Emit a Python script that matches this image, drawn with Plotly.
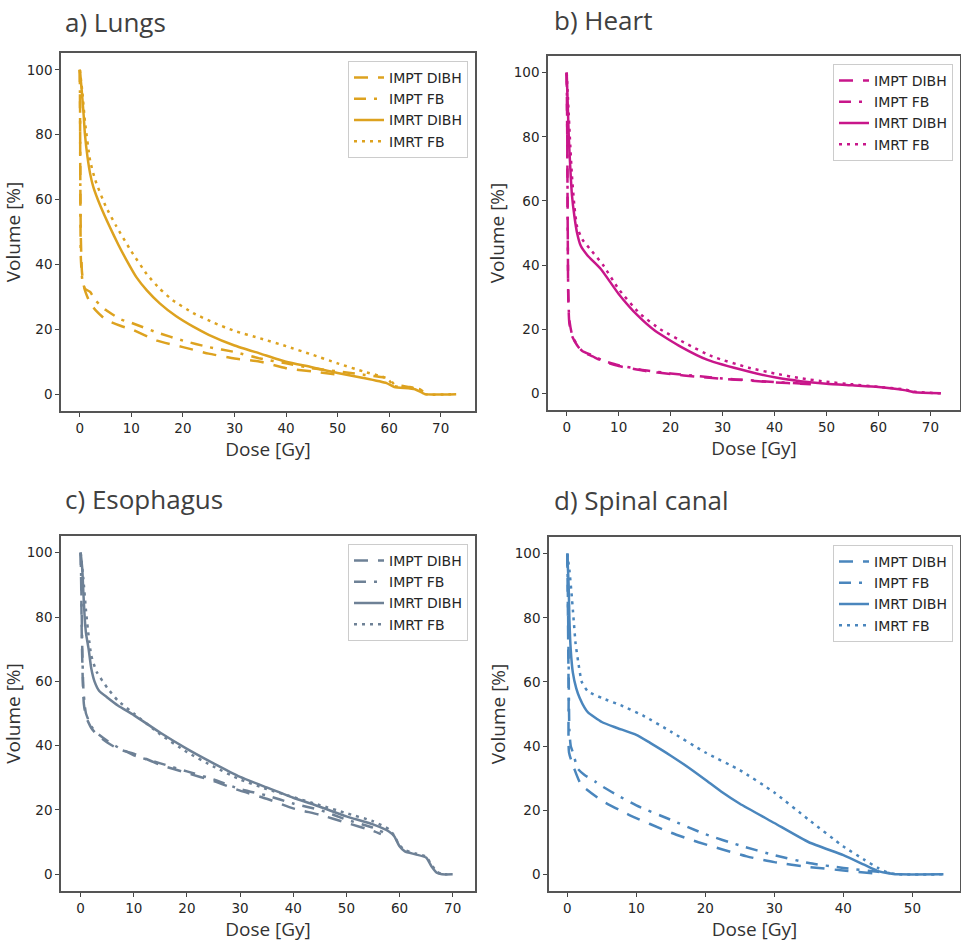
import plotly.graph_objects as go

# ---------------- data ----------------
panel_titles = ["a) Lungs", "b) Heart", "c) Esophagus", "d) Spinal canal"]
series_names = ["IMPT DIBH", "IMPT FB", "IMRT DIBH", "IMRT FB"]
panel_colors = ["#DDA21F", "#C8168A", "#6E8196", "#4A86BD"]

# a) Lungs
lungs_impt_dibh_dose = [0, 0.05, 0.1, 0.2, 0.4, 0.7, 1, 2, 3, 5, 8, 10, 15, 20, 25, 30, 35, 40, 45, 50]
lungs_impt_dibh_vol = [100, 85, 65, 48, 38, 34, 32, 28, 26, 23, 21, 20, 16.5, 14.5, 12.5, 11, 10, 8, 7, 6]
lungs_impt_fb_dose = [0, 0.05, 0.1, 0.2, 0.5, 1, 2, 3, 5, 8, 10, 15, 20, 25, 30, 35, 40, 45, 50, 55, 60, 61, 64, 66, 67]
lungs_impt_fb_vol = [100, 88, 62, 42, 35, 32.5, 31.5, 29, 26, 23, 22, 19, 16.5, 14.5, 13, 11, 9.5, 8, 7, 6, 4.8, 3, 2.2, 1.5, 0]
lungs_imrt_dibh_dose = [0, 0.3, 0.7, 1, 1.5, 2, 2.6, 4, 5.8, 7.5, 9, 11, 13, 15.5, 18.7, 22, 25, 30, 35, 40, 45, 50, 55, 59.5, 61, 65, 67, 73]
lungs_imrt_dibh_vol = [100, 95, 87, 80, 73, 68, 64, 58, 51.6, 46, 41.5, 36, 32, 28, 24, 20.8, 18.3, 15, 12.5, 10, 8.3, 6.5, 5, 3.4, 2.2, 1.5, 0, 0]
lungs_imrt_fb_dose = [0, 0.5, 1, 2, 3, 5, 7, 10, 13, 15.5, 18, 22, 26, 30, 35, 40, 45, 50, 55, 59, 60, 61, 64, 66, 67, 72]
lungs_imrt_fb_vol = [100, 93, 84, 72, 66, 58, 52, 44, 37, 32.5, 29, 25, 22, 19.5, 17.2, 14.8, 12.2, 9.5, 7, 5.2, 4.2, 2.5, 2, 1.5, 0, 0]

# b) Heart
heart_impt_dibh_dose = [0, 0.1, 0.2, 0.3, 0.5, 1, 2, 3, 5, 7, 10, 15, 20, 25, 30, 35, 40, 45, 47]
heart_impt_dibh_vol = [100, 80, 50, 30, 22, 18, 15, 13, 11.5, 10, 8.5, 7, 6, 5.2, 4.5, 4, 3.4, 3, 2.8]
heart_impt_fb_dose = [0, 0.1, 0.2, 0.3, 0.5, 1, 2, 3, 5, 7, 10, 15, 20, 25, 30, 35, 40, 45, 47]
heart_impt_fb_vol = [100, 82, 52, 31, 23, 18.5, 15, 13.2, 11.8, 10.2, 8.8, 7.2, 6.2, 5.4, 4.6, 4.1, 3.5, 3.1, 2.9]
heart_imrt_dibh_dose = [0, 0.2, 0.4, 0.7, 1, 1.5, 2, 2.7, 4, 6.6, 10, 13.7, 17, 22, 27, 35, 40, 45, 50, 55, 60, 65, 67, 72]
heart_imrt_dibh_vol = [100, 90, 80, 70, 62, 55, 50, 46, 43, 38.7, 31, 24.2, 19.5, 14.5, 10.5, 6.8, 5, 3.8, 3, 2.5, 2, 1, 0.3, 0]
heart_imrt_fb_dose = [0, 0.3, 0.6, 1, 1.5, 2, 3, 4.5, 7, 10, 14, 18, 23, 28, 35, 40, 45, 50, 55, 60, 65, 67, 72]
heart_imrt_fb_vol = [100, 90, 80, 68, 58, 52, 48, 45, 40, 32.5, 25, 20, 15.5, 11.5, 8, 6.2, 4.7, 3.6, 2.8, 2, 1.2, 0.5, 0]

# c) Esophagus
eso_impt_dibh_dose = [0, 0.1, 0.2, 0.4, 0.6, 1, 2, 3, 5, 7, 10, 15, 20, 25, 30, 35, 40, 45, 50, 55, 56.5]
eso_impt_dibh_vol = [100, 90, 75, 60, 53, 49, 45.5, 43.5, 41, 39, 37.5, 34, 31.5, 29, 26, 23.5, 20.5, 18.5, 16, 13.5, 12.5]
eso_impt_fb_dose = [0, 0.1, 0.3, 0.5, 0.8, 1, 2, 3, 5, 7, 10, 15, 20, 25, 30, 35, 40, 45, 50, 55, 57]
eso_impt_fb_vol = [100, 92, 70, 58, 52, 50, 46, 44, 41.5, 39.5, 37, 34.5, 32, 29.5, 26.5, 24.5, 22, 20, 17, 14.5, 13]
eso_imrt_dibh_dose = [0, 0.3, 0.5, 0.75, 1, 1.5, 2, 2.6, 3.5, 5, 7, 10, 15, 20, 25, 30, 35, 40, 45, 50, 55, 58, 59, 60, 61, 63, 65, 66, 67, 68, 70]
eso_imrt_dibh_vol = [100, 95, 88, 80, 75, 70, 64, 60, 57, 55, 52.5, 49.5, 44, 39, 34.5, 30.3, 27, 23.8, 21, 18, 15.5, 13.3, 11.8, 8.7, 7.1, 6.2, 5.2, 2.5, 0.5, 0, 0]
eso_imrt_fb_dose = [0, 0.5, 1, 1.5, 2, 3, 5, 7, 10, 15, 20, 25, 30, 35, 40, 45, 50, 55, 58, 59, 60, 61, 63, 65, 66, 67, 68, 69]
eso_imrt_fb_vol = [100, 92, 82, 74, 68, 63, 58, 54, 50, 43.5, 38, 33.5, 29.5, 26.5, 24, 21.5, 19, 16.5, 14, 12, 9, 7.5, 6.5, 5.5, 3, 0.8, 0, 0]

# d) Spinal canal
spine_impt_dibh_dose = [0, 0.1, 0.2, 0.25, 1, 2, 5, 9, 15, 19, 26, 30, 35, 40, 43, 45]
spine_impt_dibh_vol = [100, 80, 55, 38, 33, 28, 23, 18.5, 13, 10, 5.6, 3.8, 2.3, 1.2, 0.6, 0.2]
spine_impt_fb_dose = [0, 0.1, 0.2, 0.3, 0.5, 0.9, 1.5, 2.5, 4, 5, 7, 10, 15, 20, 25, 30, 35, 40, 45, 47]
spine_impt_fb_vol = [100, 85, 65, 45, 40, 37.5, 33, 31, 29, 27.5, 25, 21.5, 17, 12.5, 9, 6, 3.5, 2, 0.8, 0.3]
spine_imrt_dibh_dose = [0, 0.2, 0.3, 0.5, 0.8, 1.3, 1.8, 2.5, 3, 5, 7, 10, 12, 15, 17.5, 20, 22.5, 25, 30, 35, 40, 43, 45, 47, 48, 54.5]
spine_imrt_dibh_vol = [100, 90, 80, 70, 63, 58, 55, 52, 50.5, 47.5, 45.8, 43.5, 41, 37, 33.4, 29.5, 25.5, 22, 16, 10, 6, 3, 1, 0.2, 0, 0]
spine_imrt_fb_dose = [0, 0.3, 0.6, 0.9, 1.2, 1.6, 2.1, 3, 5, 8, 11, 15, 20, 25, 30, 35, 40, 43, 45, 46.5, 48, 54.5]
spine_imrt_fb_vol = [100, 95, 88, 80, 72, 66, 60, 57, 55, 52.5, 49.5, 44.5, 38, 32.5, 25.5, 17, 8.7, 4.6, 2, 0.5, 0, 0]

x_ticks = [[0, 10, 20, 30, 40, 50, 60, 70]] * 3 + [[0, 10, 20, 30, 40, 50]]
y_ticks = [0, 20, 40, 60, 80, 100]
x_ranges = [[-3.65, 76.65], [-3.6, 75.7], [-3.7, 74.2], [-2.65, 56.9]]
y_range = [-5.2, 105.2]

panels = [
    [(lungs_impt_dibh_dose, lungs_impt_dibh_vol), (lungs_impt_fb_dose, lungs_impt_fb_vol),
     (lungs_imrt_dibh_dose, lungs_imrt_dibh_vol), (lungs_imrt_fb_dose, lungs_imrt_fb_vol)],
    [(heart_impt_dibh_dose, heart_impt_dibh_vol), (heart_impt_fb_dose, heart_impt_fb_vol),
     (heart_imrt_dibh_dose, heart_imrt_dibh_vol), (heart_imrt_fb_dose, heart_imrt_fb_vol)],
    [(eso_impt_dibh_dose, eso_impt_dibh_vol), (eso_impt_fb_dose, eso_impt_fb_vol),
     (eso_imrt_dibh_dose, eso_imrt_dibh_vol), (eso_imrt_fb_dose, eso_imrt_fb_vol)],
    [(spine_impt_dibh_dose, spine_impt_dibh_vol), (spine_impt_fb_dose, spine_impt_fb_vol),
     (spine_imrt_dibh_dose, spine_imrt_dibh_vol), (spine_imrt_fb_dose, spine_imrt_fb_vol)],
]

# ---------------- layout geometry (pixels) ----------------
W, H = 961, 943
# left, right, top, bottom of each axes frame
frames = [(61, 475, 53, 411), (548, 960, 56, 410), (61, 475, 536, 891), (549, 960, 537, 891)]
title_pos = [(63, 22), (552, 20), (63, 499), (552, 500)]
dashes = ["14px,10px", "12px,8px,3px,8px", "solid", "3px,5px"]

fig = go.Figure()
layout = dict(
    width=W, height=H, margin=dict(l=0, r=0, t=0, b=0),
    paper_bgcolor="white", plot_bgcolor="white", showlegend=True,
    font=dict(family="DejaVu Sans", color="#262626"),
)
annotations = []
for i in range(4):
    l, r, t, b = frames[i]
    sfx = "" if i == 0 else str(i + 1)
    xa, ya = "x" + sfx, "y" + sfx
    leg = "legend" + sfx
    for j in range(4):
        xs, ys = panels[i][j]
        fig.add_trace(go.Scatter(
            x=xs, y=ys, mode="lines", name=series_names[j],
            xaxis=xa, yaxis=ya, legend=leg,
            line=dict(color=panel_colors[i], width=2.5, dash=dashes[j], shape="spline", smoothing=0.5),
            hoverinfo="skip",
        ))
    axis_common = dict(
        showgrid=False, zeroline=False, showline=True, mirror=True,
        linecolor="#555555", linewidth=1.5, ticks="outside", ticklen=4, tickwidth=1.2,
        tickcolor="#444444", tickfont=dict(family="DejaVu Sans", size=13.5, color="#262626"),
    )
    layout["xaxis" + sfx] = dict(
        axis_common, domain=[l / W, r / W], range=x_ranges[i], anchor=ya,
        tickvals=x_ticks[i], ticktext=[str(v) for v in x_ticks[i]],
        title=dict(text="Dose [Gy]", font=dict(family="Open Sans", size=19, color="#333333"), standoff=8),
    )
    layout["yaxis" + sfx] = dict(
        axis_common, domain=[1 - b / H, 1 - t / H], range=y_range, anchor=xa,
        tickvals=y_ticks, ticktext=[str(v) for v in y_ticks],
        title=dict(text="Volume [%]", font=dict(family="Open Sans", size=19, color="#333333"), standoff=4),
    )
    layout[leg] = dict(
        x=(r - 7) / W, y=1 - (t + 8) / H, xanchor="right", yanchor="top",
        bgcolor="rgba(255,255,255,0.9)", bordercolor="#cccccc", borderwidth=1,
        font=dict(family="DejaVu Sans", size=14, color="#262626"),
        tracegroupgap=0,
    )
    tx, ty = title_pos[i]
    annotations.append(dict(
        text=panel_titles[i], xref="paper", yref="paper", x=tx / W, y=1 - ty / H,
        xanchor="left", yanchor="middle", showarrow=False,
        font=dict(family="Open Sans", size=26, color="#404040"),
    ))
layout["annotations"] = annotations
fig.update_layout(**layout)

fig.write_html(
    "out.html",
    config={"displayModeBar": False},
    post_script="document.body.style.margin='0';document.body.style.overflow='hidden';",
)
